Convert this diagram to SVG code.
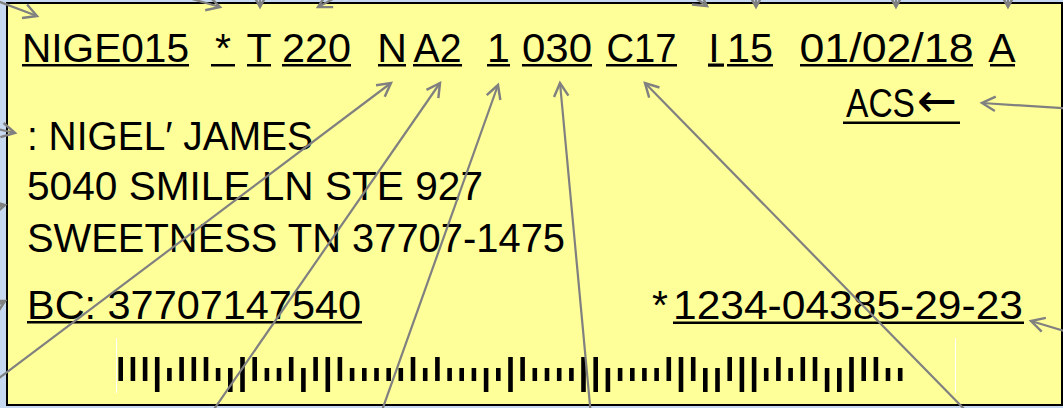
<svg xmlns="http://www.w3.org/2000/svg" xmlns:xlink="http://www.w3.org/1999/xlink" width="1063" height="408" viewBox="0 0 1063 408">
<style>
.t{font-family:"Liberation Sans",Arial,sans-serif;font-size:41px;fill:#000}
.ul{fill:#000}
.c{stroke:#808080;stroke-width:2.2;fill:none;marker-end:url(#ah)}
.bar{fill:#000}
</style>
<defs>
<marker id="ah" markerUnits="userSpaceOnUse" markerWidth="20" markerHeight="20" viewBox="-15 -9 18 18" refX="0" refY="0" orient="auto">
<path d="M-12,-6.5 L0,0 L-12,6.5" fill="none" stroke="#808080" stroke-width="2.2"/>
</marker>
<rect id="bF" class="bar" x="-2.3" y="357" width="4.6" height="35"/>
<rect id="bA" class="bar" x="-2.3" y="357" width="4.6" height="24"/>
<rect id="bD" class="bar" x="-2.3" y="368" width="4.6" height="24"/>
<rect id="bT" class="bar" x="-2.3" y="368" width="4.6" height="13"/>
</defs>
<rect x="0" y="0" width="1063" height="408" fill="#c6d9f1"/>
<g id="card">
<rect x="7" y="3" width="1055" height="402" fill="#ffff99" stroke="#000" stroke-width="2"/>
</g>
<g id="top-row">
<text class="t" x="105.5" y="62" text-anchor="middle" textLength="167" lengthAdjust="spacingAndGlyphs">NIGE015</text>
<rect class="ul" x="22" y="64" width="167" height="2.5"/>
<text class="t" x="223" y="62" text-anchor="middle">*</text>
<rect class="ul" x="211" y="64" width="24" height="2.5"/>
<text class="t" x="259" y="62" text-anchor="middle">T</text>
<rect class="ul" x="247" y="64" width="24" height="2.5"/>
<text class="t" x="316.5" y="62" text-anchor="middle" textLength="69" lengthAdjust="spacingAndGlyphs">220</text>
<rect class="ul" x="282" y="64" width="69" height="2.5"/>
<text class="t" x="392" y="62" text-anchor="middle">N</text>
<rect class="ul" x="378" y="64" width="28" height="2.5"/>
<text class="t" x="437.5" y="62" text-anchor="middle" textLength="48" lengthAdjust="spacingAndGlyphs">A2</text>
<rect class="ul" x="413" y="64" width="49" height="2.5"/>
<text class="t" x="498.5" y="62" text-anchor="middle">1</text>
<rect class="ul" x="487" y="64" width="23" height="2.5"/>
<text class="t" x="557" y="62" text-anchor="middle" textLength="70" lengthAdjust="spacingAndGlyphs">030</text>
<rect class="ul" x="522" y="64" width="70" height="2.5"/>
<text class="t" x="641.5" y="62" text-anchor="middle" textLength="70" lengthAdjust="spacingAndGlyphs">C17</text>
<rect class="ul" x="606" y="64" width="71" height="2.5"/>
<text class="t" x="714" y="62" text-anchor="middle">I</text>
<rect class="ul" x="708" y="63.5" width="16" height="3.2"/>
<text class="t" x="750" y="62" text-anchor="middle" textLength="46" lengthAdjust="spacingAndGlyphs">15</text>
<rect class="ul" x="727" y="64" width="46" height="2.5"/>
<text class="t" x="886.5" y="62" text-anchor="middle" textLength="174" lengthAdjust="spacingAndGlyphs">01/02/18</text>
<rect class="ul" x="800" y="64" width="173" height="2.5"/>
<text class="t" x="1002" y="62" text-anchor="middle">A</text>
<rect class="ul" x="990" y="64" width="25" height="2.5"/>
</g>
<g id="acs">
<text class="t" y="117"><tspan x="846" textLength="69" lengthAdjust="spacingAndGlyphs">ACS</tspan><tspan x="917" y="117" style="font-family:'DejaVu Sans',sans-serif;font-size:48px">←</tspan></text>
<rect class="ul" x="843" y="121.5" width="117" height="2.5"/>
</g>
<g id="address">
<text class="t" x="27" y="150" textLength="286" lengthAdjust="spacingAndGlyphs">: NIGEL′ JAMES</text>
<text class="t" x="27" y="200" textLength="456" lengthAdjust="spacingAndGlyphs">5040 SMILE LN STE 927</text>
<text class="t" x="27" y="252" textLength="538" lengthAdjust="spacingAndGlyphs">SWEETNESS TN 37707-1475</text>
</g>
<g id="bc">
<text class="t" x="27" y="319" textLength="334" lengthAdjust="spacingAndGlyphs">BC: 37707147540</text>
<rect class="ul" x="27" y="321" width="335" height="2.5"/>
</g>
<g id="account">
<text class="t" x="652" y="319">*</text>
<text class="t" x="673" y="319" textLength="350" lengthAdjust="spacingAndGlyphs">1234-04385-29-23</text>
<rect class="ul" x="673" y="321.5" width="351" height="2.5"/>
</g>
<g id="barcode">
<line x1="116.5" y1="338" x2="116.5" y2="393" stroke="#ffffff" stroke-width="1"/>
<line x1="955.5" y1="338" x2="955.5" y2="393" stroke="#ffffff" stroke-width="1"/>
<use xlink:href="#bA" x="120.7"/><use xlink:href="#bA" x="132.9"/><use xlink:href="#bA" x="145.1"/><use xlink:href="#bF" x="157.2"/><use xlink:href="#bT" x="169.4"/>
<use xlink:href="#bA" x="181.6"/><use xlink:href="#bA" x="193.8"/><use xlink:href="#bA" x="206.0"/><use xlink:href="#bT" x="218.1"/><use xlink:href="#bD" x="230.3"/>
<use xlink:href="#bF" x="242.5"/><use xlink:href="#bA" x="254.7"/><use xlink:href="#bT" x="266.9"/><use xlink:href="#bT" x="279.0"/><use xlink:href="#bA" x="291.2"/>
<use xlink:href="#bD" x="303.4"/><use xlink:href="#bA" x="315.6"/><use xlink:href="#bF" x="327.8"/><use xlink:href="#bA" x="339.9"/><use xlink:href="#bT" x="352.1"/>
<use xlink:href="#bT" x="364.3"/><use xlink:href="#bT" x="376.5"/><use xlink:href="#bT" x="388.7"/><use xlink:href="#bT" x="400.8"/><use xlink:href="#bA" x="413.0"/>
<use xlink:href="#bT" x="425.2"/><use xlink:href="#bA" x="437.4"/><use xlink:href="#bT" x="449.6"/><use xlink:href="#bT" x="461.7"/><use xlink:href="#bT" x="473.9"/>
<use xlink:href="#bD" x="486.1"/><use xlink:href="#bT" x="498.3"/><use xlink:href="#bF" x="510.5"/><use xlink:href="#bA" x="522.6"/><use xlink:href="#bT" x="534.8"/>
<use xlink:href="#bT" x="547.0"/><use xlink:href="#bT" x="559.2"/><use xlink:href="#bT" x="571.4"/><use xlink:href="#bF" x="583.5"/><use xlink:href="#bF" x="595.7"/>
<use xlink:href="#bD" x="607.9"/><use xlink:href="#bT" x="620.1"/><use xlink:href="#bT" x="632.3"/><use xlink:href="#bT" x="644.4"/><use xlink:href="#bT" x="656.6"/>
<use xlink:href="#bA" x="668.8"/><use xlink:href="#bF" x="681.0"/><use xlink:href="#bA" x="693.2"/><use xlink:href="#bD" x="705.3"/><use xlink:href="#bD" x="717.5"/>
<use xlink:href="#bA" x="729.7"/><use xlink:href="#bF" x="741.9"/><use xlink:href="#bF" x="754.1"/><use xlink:href="#bT" x="766.2"/><use xlink:href="#bA" x="778.4"/>
<use xlink:href="#bT" x="790.6"/><use xlink:href="#bA" x="802.8"/><use xlink:href="#bA" x="815.0"/><use xlink:href="#bD" x="827.1"/><use xlink:href="#bD" x="839.3"/>
<use xlink:href="#bF" x="851.5"/><use xlink:href="#bA" x="863.7"/><use xlink:href="#bA" x="875.9"/><use xlink:href="#bT" x="888.0"/><use xlink:href="#bT" x="900.2"/>
</g>
<g id="connectors">
<line class="c" x1="-8" y1="-1" x2="37" y2="16"/>
<line class="c" x1="185" y1="-3" x2="220" y2="7"/>
<line class="c" x1="260" y1="-25" x2="260" y2="7"/>
<line class="c" x1="348" y1="-9" x2="318" y2="7"/>
<line class="c" x1="688" y1="-7" x2="707" y2="6"/>
<line class="c" x1="756" y1="-25" x2="756" y2="7"/>
<line class="c" x1="896" y1="-25" x2="896" y2="7"/>
<line class="c" x1="1008" y1="-25" x2="1008" y2="7"/>
<line class="c" x1="-20" y1="125" x2="15" y2="133"/>
<line class="c" x1="-30" y1="213" x2="5" y2="205"/>
<line class="c" x1="-30" y1="320" x2="5" y2="301"/>
<line class="c" x1="1075" y1="109" x2="982" y2="103"/>
<line class="c" x1="1078" y1="335" x2="1031" y2="321"/>
<line class="c" x1="-10" y1="385" x2="391" y2="83"/>
<line class="c" x1="210" y1="415" x2="440" y2="83"/>
<line class="c" x1="380" y1="416" x2="498" y2="85"/>
<line class="c" x1="591" y1="416" x2="560" y2="83"/>
<line class="c" x1="971" y1="416" x2="645" y2="83"/>
</g>
</svg>
